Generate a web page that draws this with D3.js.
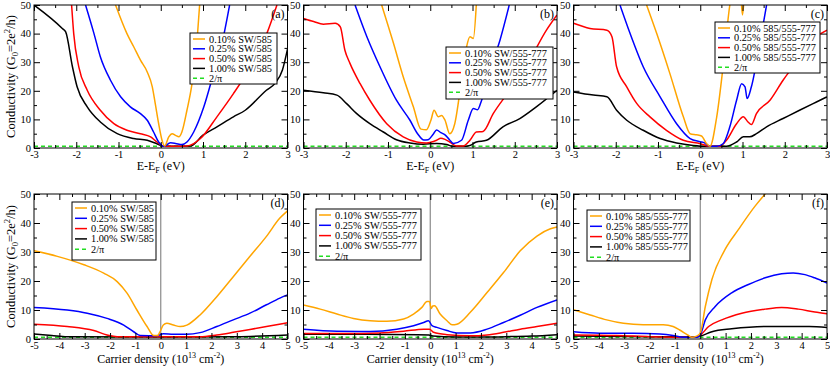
<!DOCTYPE html>
<html>
<head>
<meta charset="utf-8">
<script src="https://cdn.jsdelivr.net/npm/d3@7"></script>
<style>
  body { margin: 0; background: #fff; }
  svg { font-family: "Liberation Serif", "DejaVu Serif", serif; }
</style>
</head>
<body>
<script>
// ---- data ----
const energyTicks = [-3, -2, -1, 0, 1, 2, 3];
const densityTicks = [-5, -4, -3, -2, -1, 0, 1, 2, 3, 4, 5];
const conductivityTicks = [0, 10, 20, 30, 40, 50];
const concentrations = ['0.10%', '0.25%', '0.50%', '1.00%'];
const defectPairs = ['SW/585', 'SW/555-777', '585/555-777'];
const panelLetters = ['(a)', '(b)', '(c)', '(d)', '(e)', '(f)'];
const minConductivity = 2 / Math.PI;

// (a) SW/585 vs energy
const aOrange = [[-1.07, 50], [-0.8, 40], [-0.64, 35.4], [-0.48, 30.7], [-0.32, 26.6], [-0.2, 21.4], [-0.13, 15.5], [-0.05, 8.5], [0.03, 2.7], [0.09, 0.7], [0.19, 3.9], [0.27, 5.0], [0.35, 4.4], [0.43, 3.9], [0.5, 5.6], [0.62, 13.2], [0.74, 22.5], [0.86, 37.7], [0.92, 50]];
const aBlue = [[-1.78, 50], [-1.58, 40], [-1.43, 31.9], [-1.19, 23.7], [-0.95, 17.9], [-0.72, 14.4], [-0.48, 12.0], [-0.32, 9.7], [-0.17, 5.6], [-0.05, 2.1], [0.07, 0.6], [0.23, 1.8], [0.35, 1.6], [0.5, 1.2], [0.62, 2.1], [0.78, 5.6], [1.02, 14.4], [1.25, 26.1], [1.45, 36.6], [1.63, 50]];
const aRed = [[-2.11, 50], [-2.06, 40], [-1.94, 28.4], [-1.74, 20.2], [-1.43, 13.2], [-1.11, 8.5], [-0.8, 6.2], [-0.48, 5.0], [-0.24, 3.9], [-0.09, 2.1], [0.07, 0.6], [0.3, 0.6], [0.62, 0.7], [0.94, 3.3], [1.33, 10.9], [1.72, 19.0], [2.12, 28.4], [2.51, 40], [2.75, 50]];
const aBlack = [[-3, 50], [-2.33, 41.8], [-2.25, 40.6], [-2.09, 28.4], [-1.98, 21.4], [-1.74, 14.4], [-1.43, 9.1], [-1.03, 5.0], [-0.64, 3.3], [-0.32, 2.7], [-0.09, 1.5], [0.07, 0.6], [0.4, 0.6], [0.7, 0.7], [1.0, 4.5], [1.33, 7.4], [1.72, 10.9], [2.0, 13.2], [2.5, 20.2], [2.71, 22.7], [2.88, 27.3], [3, 34.6]];

// (b) SW/555-777 vs energy
const bOrange = [[-1.15, 50], [-0.87, 36.6], [-0.64, 24.9], [-0.4, 14.4], [-0.22, 6.6], [-0.09, 6.4], [0.02, 9.9], [0.09, 13.2], [0.19, 10.9], [0.27, 11.4], [0.35, 9.7], [0.46, 5.0], [0.58, 8.5], [0.74, 23.7], [0.86, 35.4], [0.94, 38.9], [1.02, 38.3], [1.09, 50]];
const bBlue = [[-1.78, 50], [-1.5, 38.9], [-1.19, 28.4], [-0.8, 16.7], [-0.48, 9.7], [-0.3, 5.0], [-0.15, 2.8], [-0.05, 2.9], [0.07, 4.8], [0.15, 6.3], [0.25, 5.4], [0.35, 4.6], [0.45, 3.0], [0.55, 1.6], [0.74, 2.7], [0.9, 9.7], [1.02, 13.8], [1.12, 13.4], [1.2, 16], [1.41, 27.2], [1.65, 37.7], [1.87, 50]];
const bRed = [[-3, 45.3], [-2.76, 44.2], [-2.53, 43.3], [-2.25, 43.6], [-2.13, 42.4], [-2.02, 34.2], [-1.9, 29.6], [-1.66, 22.5], [-1.43, 16.7], [-1.03, 8.5], [-0.64, 3.9], [-0.32, 2.1], [-0.09, 1.75], [0.15, 2.7], [0.25, 3.4], [0.35, 3.0], [0.46, 2.1], [0.62, 0.7], [0.78, 0.7], [0.94, 2.7], [1.09, 5.6], [1.25, 5.8], [1.49, 12.0], [1.88, 20.2], [2.35, 30.7], [2.75, 41.2], [3, 46.5]];
const bBlack = [[-3, 20.2], [-2.53, 19.3], [-2.21, 18.5], [-1.98, 15.5], [-1.74, 12.0], [-1.43, 8.5], [-1.11, 5.6], [-0.8, 2.9], [-0.48, 1.75], [-0.17, 1.3], [0.15, 1.6], [0.39, 1.2], [0.54, 0.6], [0.78, 0.6], [0.94, 0.9], [1.09, 2.1], [1.33, 2.7], [1.72, 7.4], [2.12, 10.3], [2.51, 14.4], [3, 20.2]];

// (c) 585/555-777 vs energy
const cOrange = [[-1.27, 50], [-1.03, 40], [-0.72, 26.1], [-0.4, 10.9], [-0.24, 5.0], [-0.09, 4.6], [0.03, 4.2], [0.15, 1.5], [0.23, 0.6], [0.39, 10.9], [0.54, 28.4], [0.7, 50], [0.8, 58], [0.93, 58], [1.0, 46.5], [1.07, 58], [1.2, 62]];
const cBlue = [[-1.9, 50], [-1.66, 40], [-1.35, 28.4], [-0.95, 17.9], [-0.56, 8.5], [-0.24, 3.3], [0, 2.2], [0.1, 1.8], [0.2, 0.8], [0.39, 0.6], [0.54, 1.5], [0.7, 7.4], [0.86, 16.7], [0.98, 22.5], [1.06, 21.4], [1.11, 17.3], [1.21, 21.4], [1.41, 36.6], [1.57, 50]];
const cRed = [[-3, 43.6], [-2.61, 41.8], [-2.21, 41.2], [-2.09, 38.9], [-1.98, 28.4], [-1.74, 21.4], [-1.5, 15.5], [-1.19, 10.9], [-0.8, 6.2], [-0.4, 2.7], [0, 1.5], [0.23, 0.6], [0.46, 0.6], [0.62, 2.7], [0.86, 8.5], [1.02, 10.9], [1.13, 9.1], [1.21, 8.2], [1.33, 12.0], [1.65, 16.7], [1.96, 23.7], [2.35, 31.3], [2.75, 38.9], [3, 41.2]];
const cBlack = [[-3, 19.6], [-2.53, 18.5], [-2.21, 17.9], [-1.98, 13.2], [-1.74, 9.7], [-1.35, 6.2], [-0.95, 3.3], [-0.56, 1.75], [-0.17, 0.9], [0.15, 0.6], [0.62, 0.6], [0.86, 2.1], [1.02, 3.9], [1.17, 3.9], [1.33, 5.0], [1.57, 7.4], [1.96, 10.3], [2.35, 13.2], [2.75, 16.1], [3, 17.9]];

// (d) SW/585 vs carrier density
const dOrange = [[-5, 30.4], [-4.08, 28.5], [-3.03, 25.6], [-2.25, 22.7], [-1.72, 19.8], [-1.33, 15.8], [-0.94, 10.0], [-0.54, 4.3], [-0.28, 1.2], [-0.12, 1.2], [-0.03, 2.5], [0.1, 4.8], [0.24, 5.4], [0.5, 4.8], [0.77, 4.3], [1.03, 4.8], [1.55, 8.3], [2.21, 14.6], [2.86, 21.5], [3.52, 28.5], [4.17, 35.4], [4.7, 41.7], [5, 44.2]];
const dBlue = [[-5, 10.9], [-3.69, 10.0], [-2.9, 8.9], [-2.12, 7.1], [-1.46, 4.8], [-1.07, 2.5], [-0.81, 1.2], [-0.15, 1.1], [0.1, 1.8], [0.5, 1.6], [1.03, 1.6], [1.55, 2.2], [2.21, 4.3], [2.86, 6.6], [3.52, 8.9], [4.17, 11.8], [4.7, 14.1], [5, 15.2]];
const dRed = [[-5, 5.1], [-3.69, 4.3], [-2.64, 2.9], [-2.12, 1.4], [-1.72, 0.8], [0, 0.8], [1.55, 0.8], [2.21, 1.4], [2.86, 2.3], [3.52, 3.3], [4.17, 4.3], [5, 5.6]];
const dBlack = [[-5, 1.7], [-4.3, 1.2], [-3.7, 0.8], [0, 0.7], [3, 0.8], [5, 1.4]];

// (e) SW/555-777 vs carrier density
const eOrange = [[-5, 11.7], [-4.34, 10.3], [-3.68, 8.6], [-3.03, 7.1], [-2.37, 6.3], [-1.71, 6.1], [-1.05, 6.9], [-0.66, 8.6], [-0.33, 10.9], [-0.13, 12.9], [-0.03, 12.9], [0.04, 10.5], [0.1, 11.4], [0.17, 11.5], [0.39, 8.6], [0.66, 6.3], [0.86, 4.9], [1.05, 5.1], [1.58, 9.2], [2.24, 16.0], [2.89, 22.9], [3.55, 30.4], [4.21, 35.5], [4.74, 38.0], [5, 38.6]];
const eBlue = [[-5, 3.4], [-3.68, 2.7], [-2.37, 2.6], [-1.32, 3.4], [-0.66, 4.6], [-0.26, 5.7], [-0.07, 6.3], [0.07, 4.6], [0.26, 4.0], [0.66, 2.9], [1.05, 2.1], [1.58, 2.1], [2.24, 3.4], [2.89, 5.7], [3.55, 8.2], [4.21, 10.9], [5, 13.5]];
const eRed = [[-5, 1.9], [-3.5, 1.9], [-2, 2.1], [-1.05, 2.7], [-0.26, 3.4], [-0.03, 3.4], [0.13, 2.3], [0.66, 1.5], [1.58, 1.1], [2.24, 1.4], [2.89, 2.3], [3.55, 3.4], [4.21, 4.3], [5, 5.4]];
const eBlack = [[-5, 1.6], [-2.5, 1.6], [-0.5, 1.5], [-0.05, 1.4], [0.1, 1.0], [1, 0.7], [2, 0.7], [3, 0.8], [4, 1.0], [5, 1.5]];

// (f) 585/555-777 vs carrier density
const fOrange = [[-5, 10.1], [-4.34, 8.3], [-3.69, 6.6], [-3.03, 5.4], [-2.25, 4.9], [-1.46, 4.9], [-1.07, 4.3], [-0.81, 3.1], [-0.48, 1.3], [-0.33, 0.6], [-0.14, 1.0], [0, 2.0], [0.2, 11.2], [0.46, 20.5], [0.98, 30.9], [1.51, 37.8], [2.17, 45.9], [2.56, 50], [3.2, 55]];
const fBlue = [[-5, 2.5], [-3.95, 2.0], [-2.64, 2.0], [-1.59, 1.7], [-1.07, 1.2], [-0.68, 0.6], [-0.15, 0.6], [0, 1.4], [0.2, 6.6], [0.59, 11.2], [1.24, 15.9], [1.9, 18.8], [2.56, 21.1], [3.21, 22.5], [3.67, 22.8], [4.13, 22.2], [4.51, 21.1], [5, 19.3]];
const fRed = [[-5, 1.4], [-3.3, 1.2], [-1.98, 0.8], [-0.15, 0.6], [0, 1.3], [0.33, 4.3], [0.85, 6.6], [1.64, 8.9], [2.56, 10.3], [3.21, 10.9], [3.87, 10.3], [4.52, 9.3], [5, 8.7]];
const fBlack = [[-5, 1.0], [-2, 0.8], [-0.15, 0.7], [0, 1.0], [0.46, 2.5], [1.24, 3.5], [2.56, 4.3], [4.3, 4.3], [5, 4.0]];

// ---- layout ----
const width = 830;
const height = 369;
const colLeft = [34, 303.5, 573.5];
const colWidth = 253.5;
const rowTop = [5, 194];
const rowHeight = [143, 145];
const seriesColors = ['#ffa500', '#0000ff', '#ff0000', '#000000'];
const gapGreen = '#22dd22';

const panels = [
  { letter: panelLetters[0], col: 0, row: 0, ticks: energyTicks, defect: defectPairs[0], series: [aOrange, aBlue, aRed, aBlack], legend: [190, 33, 87, 51] },
  { letter: panelLetters[1], col: 1, row: 0, ticks: energyTicks, defect: defectPairs[1], series: [bOrange, bBlue, bRed, bBlack], legend: [446, 47, 107, 52] },
  { letter: panelLetters[2], col: 2, row: 0, ticks: energyTicks, defect: defectPairs[2], series: [cOrange, cBlue, cRed, cBlack], legend: [715, 22, 105, 51] },
  { letter: panelLetters[3], col: 0, row: 1, ticks: densityTicks, defect: defectPairs[0], series: [dOrange, dBlue, dRed, dBlack], legend: [72, 202, 84, 58] },
  { letter: panelLetters[4], col: 1, row: 1, ticks: densityTicks, defect: defectPairs[1], series: [eOrange, eBlue, eRed, eBlack], legend: [316, 209, 105, 51] },
  { letter: panelLetters[5], col: 2, row: 1, ticks: densityTicks, defect: defectPairs[2], series: [fOrange, fBlue, fRed, fBlack], legend: [587, 210, 103, 51] }
];

const svg = d3.select('body').append('svg').attr('width', width).attr('height', height);

const halfSteps = (lo, hi, step) => d3.range(lo, hi + 1e-9, step);

const styleAxis = (sel) => {
  sel.attr('font-family', null).attr('font-size', 10.5);
  sel.select('.domain').remove();
  sel.selectAll('.tick line').attr('stroke', '#000');
  sel.selectAll('.tick text').attr('fill', '#000');
};

const drawPanel = (p, i) => {
  const x0 = colLeft[p.col];
  const y0 = rowTop[p.row];
  const w = colWidth;
  const h = rowHeight[p.row];
  const ticks = p.ticks;
  const lo = ticks[0];
  const hi = ticks[ticks.length - 1];

  const x = d3.scaleLinear().domain([lo, hi]).range([0, w]);
  const y = d3.scaleLinear().domain([0, 50]).range([h, 0]);

  const g = svg.append('g').attr('transform', `translate(${x0},${y0})`);
  g.append('clipPath').attr('id', `clip${i}`)
    .append('rect').attr('width', w).attr('height', h);

  const plot = g.append('g').attr('clip-path', `url(#clip${i})`);

  if (p.row === 1) {
    plot.append('line')
      .attr('x1', x(0)).attr('x2', x(0))
      .attr('y1', 0).attr('y2', h)
      .attr('stroke', '#8a8a8a').attr('stroke-width', 1.2);
  }

  plot.append('line')
    .attr('x1', 0).attr('x2', w)
    .attr('y1', y(minConductivity)).attr('y2', y(minConductivity))
    .attr('stroke', gapGreen).attr('stroke-width', 1.5)
    .attr('stroke-dasharray', '4,3');

  const line = d3.line()
    .x((d) => x(d[0]))
    .y((d) => y(d[1]))
    .curve(d3.curveMonotoneX);

  // black first so the lighter curves sit on top
  [3, 2, 1, 0].forEach((k) => {
    plot.append('path')
      .datum(p.series[k])
      .attr('d', line)
      .attr('fill', 'none')
      .attr('stroke', seriesColors[k])
      .attr('stroke-width', 1.5);
  });

  // axes, ticks pointing inward
  const minorX = halfSteps(lo, hi, 0.5).filter((v) => !Number.isInteger(v));
  const minorY = [5, 15, 25, 35, 45];
  const fmt = (d) => String(d);

  g.append('g').attr('transform', `translate(0,${h})`)
    .call(d3.axisBottom(x).tickValues(ticks).tickSize(-6).tickPadding(2.5).tickFormat(fmt))
    .call(styleAxis);
  g.append('g').attr('transform', `translate(0,${h})`)
    .call(d3.axisBottom(x).tickValues(minorX).tickSize(-3).tickFormat(''))
    .call(styleAxis);
  g.append('g')
    .call(d3.axisTop(x).tickValues(ticks).tickSize(-6).tickFormat(''))
    .call(styleAxis);
  g.append('g')
    .call(d3.axisTop(x).tickValues(minorX).tickSize(-3).tickFormat(''))
    .call(styleAxis);
  g.append('g')
    .call(d3.axisLeft(y).tickValues(conductivityTicks).tickSize(-6).tickPadding(3).tickFormat(fmt))
    .call(styleAxis);
  g.append('g')
    .call(d3.axisLeft(y).tickValues(minorY).tickSize(-3).tickFormat(''))
    .call(styleAxis);
  g.append('g').attr('transform', `translate(${w},0)`)
    .call(d3.axisRight(y).tickValues(conductivityTicks).tickSize(-6).tickFormat(''))
    .call(styleAxis);
  g.append('g').attr('transform', `translate(${w},0)`)
    .call(d3.axisRight(y).tickValues(minorY).tickSize(-3).tickFormat(''))
    .call(styleAxis);

  g.append('rect')
    .attr('width', w).attr('height', h)
    .attr('fill', 'none').attr('stroke', '#000').attr('stroke-width', 1);

  g.append('text')
    .attr('x', w - 3).attr('y', 13)
    .attr('text-anchor', 'end')
    .attr('font-size', 12)
    .text(p.letter);

  // legend
  const [lx, ly, lw, lh] = p.legend;
  const leg = svg.append('g').attr('transform', `translate(${lx},${ly})`);
  leg.append('rect')
    .attr('width', lw).attr('height', lh)
    .attr('fill', '#fff').attr('stroke', '#000').attr('stroke-width', 1);
  const rowStep = p.row === 0 ? 9.8 : 10.3;
  const entries = concentrations.map((c, k) => ({ label: `${c} ${p.defect}`, color: seriesColors[k], dash: null }))
    .concat([{ label: '2/\u03c0', color: gapGreen, dash: '4,3' }]);
  entries.forEach((e, k) => {
    const cy = 6 + k * rowStep;
    leg.append('line')
      .attr('x1', 3).attr('x2', 15)
      .attr('y1', cy).attr('y2', cy)
      .attr('stroke', e.color).attr('stroke-width', 1.5)
      .attr('stroke-dasharray', e.dash);
    leg.append('text')
      .attr('x', 19).attr('y', cy + 3.5)
      .attr('font-size', 10.3)
      .text(e.label);
  });

  // x axis title
  const title = g.append('text')
    .attr('x', w / 2)
    .attr('text-anchor', 'middle')
    .attr('font-size', 12);
  if (p.row === 0) {
    title.attr('y', h + 21.5);
    title.append('tspan').text('E-E');
    title.append('tspan').attr('font-size', 8).attr('dy', 3).text('F');
    title.append('tspan').attr('dy', -3).text(' (eV)');
  } else {
    title.attr('y', h + 23.5);
    title.append('tspan').text('Carrier density (10');
    title.append('tspan').attr('font-size', 8).attr('dy', -5).text('13');
    title.append('tspan').attr('dy', 5).text(' cm');
    title.append('tspan').attr('font-size', 8).attr('dy', -5).text('-2');
    title.append('tspan').attr('dy', 5).text(')');
  }

  // y axis title only on the first column
  if (p.col === 0) {
    const yt = svg.append('text')
      .attr('transform', `translate(15,${y0 + h / 2}) rotate(-90)`)
      .attr('text-anchor', 'middle')
      .attr('font-size', 12.5);
    yt.append('tspan').text('Conductivity (G');
    yt.append('tspan').attr('font-size', 8.5).attr('dy', 3).text('0');
    yt.append('tspan').attr('dy', -3).text('=2e');
    yt.append('tspan').attr('font-size', 8.5).attr('dy', -5).text('2');
    yt.append('tspan').attr('dy', 5).text('/h)');
  }
};

panels.forEach(drawPanel);
</script>
</body>
</html>
